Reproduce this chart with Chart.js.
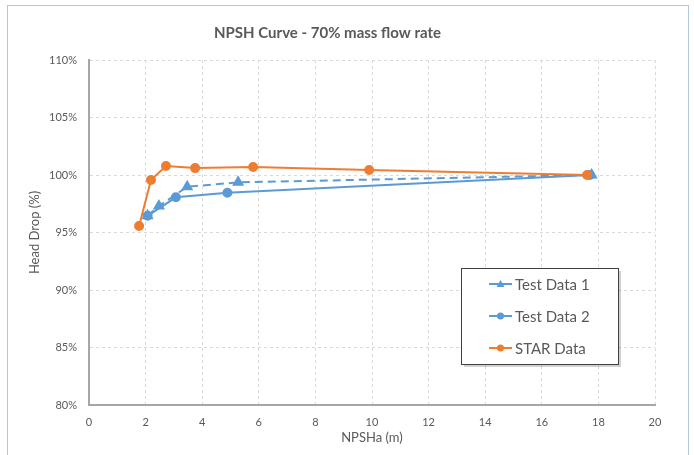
<!DOCTYPE html>
<html>
<head>
<meta charset="utf-8">
<script src="https://cdn.jsdelivr.net/npm/chart.js@4/dist/chart.umd.min.js"></script>
<style>
	html, body {margin: 0; padding: 0; background: #fff;}
	#frame {position: absolute; left: 7px; top: 5px; width: 680px; height: 470px; border: 1px solid #b4c7d7;}
	#wrap  {position: absolute; left: 0; top: 0; width: 694px; height: 455px;}
</style>
</head>
<body>
<div id="frame"></div>
<div id="wrap"><canvas id="npsh-chart" width="694" height="455"></canvas></div>
<script>
// NPSHa (m) / head drop (%)
var test1X = [2.07, 2.47, 3.47, 5.27, 17.76];
var test1Y = [96.45, 97.3, 98.98, 99.36, 100.0];
var test2X = [2.07, 3.07, 4.89, 17.7];
var test2Y = [96.45, 98.06, 98.46, 100.0];
var starX  = [1.77, 2.19, 2.72, 3.75, 5.8, 9.9, 17.6];
var starY  = [95.57, 99.57, 100.78, 100.6, 100.7, 100.43, 100.0];
var seriesNames = ['Test Data 1', 'Test Data 2', 'STAR Data'];

var FONT  = "Lato, 'Open Sans', sans-serif";
var GREY  = '#595959';
var BLUE  = '#5b9bd5';
var ORNG  = '#ed7d31';

function toPoints(xs, ys) {
	var pts = [];
	for (var i = 0; i < xs.length; i++) {pts.push({x: xs[i], y: ys[i]});}
	return pts;
}

// legend box sitting inside the plot, like the Excel one
var boxLegend = {
	id: 'boxLegend',
	afterDraw: function(chart) {
		var ctx = chart.ctx;
		var x0 = 461, y0 = 268, w = 157, h = 96;
		ctx.save();
		ctx.fillStyle = 'rgba(0,0,0,0.18)';
		ctx.fillRect(x0 + 3, y0 + 3, w, h);
		ctx.fillStyle = '#fff';
		ctx.fillRect(x0, y0, w, h);
		ctx.strokeStyle = '#3f3f3f';
		ctx.lineWidth = 1;
		ctx.strokeRect(x0 + 0.5, y0 + 0.5, w, h);

		var rowsY = [284, 316, 348];
		chart.data.datasets.forEach(function(ds, i) {
			var yy = rowsY[i];
			ctx.strokeStyle = ds.borderColor;
			ctx.lineWidth = 2;
			ctx.setLineDash([]);
			ctx.beginPath();
			ctx.moveTo(489, yy);
			ctx.lineTo(512, yy);
			ctx.stroke();
			ctx.fillStyle = ds.borderColor;
			ctx.beginPath();
			if (ds.pointStyle === 'triangle') {
				ctx.moveTo(500.5, yy - 4);
				ctx.lineTo(504.5, yy + 3);
				ctx.lineTo(496.5, yy + 3);
			}
			else {
				ctx.arc(500.5, yy, 3.5, 0, Math.PI * 2);
			}
			ctx.fill();
			ctx.fillStyle = GREY;
			ctx.font = "15px " + FONT;
			ctx.textBaseline = 'middle';
			ctx.fillText(ds.label, 515, yy + 1);
		});
		ctx.restore();
	}
};

var ctx = document.getElementById('npsh-chart').getContext('2d');
var npshChart = new Chart(ctx, {
	type: 'scatter',
	data: {
		datasets: [
			{label: seriesNames[0], data: toPoints(test1X, test1Y), showLine: true, borderColor: BLUE, backgroundColor: BLUE,
				borderWidth: 2, borderDash: [8, 5], pointStyle: 'triangle', pointRadius: 5, order: 2},
			{label: seriesNames[1], data: toPoints(test2X, test2Y), showLine: true, borderColor: BLUE, backgroundColor: BLUE,
				borderWidth: 2, pointStyle: 'circle', pointRadius: 4, order: 3},
			{label: seriesNames[2], data: toPoints(starX, starY), showLine: true, borderColor: ORNG, backgroundColor: ORNG,
				borderWidth: 2, pointStyle: 'circle', pointRadius: 4, order: 1}
		]
	},
	options: {
		responsive: false,
		animation: false,
		layout: {padding: {left: 0, right: 39, top: 0, bottom: 0}},
		plugins: {
			legend:  {display: false},
			tooltip: {enabled: false},
			title: {
				display: true,
				text:    'NPSH Curve - 70% mass flow rate',
				color:   GREY,
				font:    {family: FONT, size: 15, weight: 'bold'},
				padding: {top: 24, bottom: 18}
			}
		},
		scales: {
			x: {
				type: 'linear', min: 0, max: 20,
				ticks:  {stepSize: 2, color: GREY, font: {family: FONT, size: 11}, padding: 11},
				grid:   {color: '#d9d9d9', drawTicks: false},
				border: {display: true, color: '#a6a6a6', width: 2, dash: [3, 3]},
				title:  {display: true, text: 'NPSHa (m)', color: GREY, font: {family: FONT, size: 13}, padding: {top: 2, bottom: 9}},
				afterFit: function(s) {s.height = 50;}
			},
			y: {
				min: 80, max: 110,
				ticks:  {stepSize: 5, color: GREY, font: {family: FONT, size: 11}, padding: 12,
					callback: function(v) {return v + '%';}},
				grid:   {color: '#d9d9d9', drawTicks: false},
				border: {display: true, color: '#a6a6a6', width: 2, dash: [3, 3]},
				title:  {display: true, text: 'Head Drop (%)', color: GREY, font: {family: FONT, size: 13}, padding: {top: 27}},
				afterFit: function(s) {s.width = 89;}
			}
		}
	},
	plugins: [boxLegend]
});
</script>
</body>
</html>
